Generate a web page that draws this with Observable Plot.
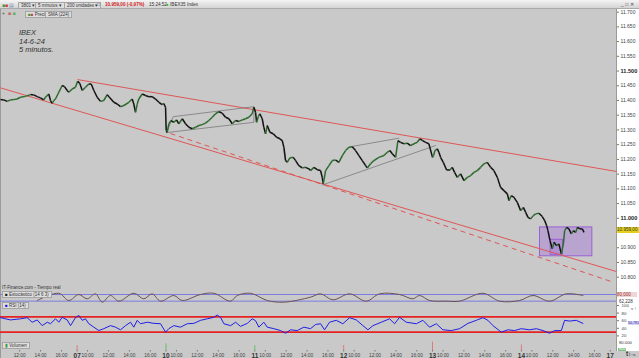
<!DOCTYPE html>
<html><head><meta charset="utf-8">
<script src="https://cdn.jsdelivr.net/npm/d3@7"></script>
<script src="https://cdn.jsdelivr.net/npm/@observablehq/plot@0.6"></script>
<style>
body{margin:0;background:#fff;}
#wrap{position:relative;width:639px;height:358px;background:#c9c9c9;overflow:hidden;font-family:"Liberation Sans",Arial,sans-serif;}
.abs{position:absolute;white-space:nowrap;}
.box{background:#dedede;border:1px solid #a5a5a5;font-size:4.5px;line-height:5px;padding:0 2px;color:#333;}
</style></head><body><div id="wrap"></div>
<script>
// ---- time axis: trading hours counted from 06-Jun 09:00 (each session 09:00-17:30 = 8.5 h)
const dayLabels = ["06","07","10","11","12","13","14","17"];
const hourLabels = ["10:00","12:00","14:00","16:00"];
const X_DOMAIN = [1.17, 60.1];

// ---- price (IBEX 35, 5 min)
const priceT = [1.17,1.48,1.81,2.12,2.44,2.76,3.08,3.56,4.04,4.35,4.68,4.99,5.31,5.47,5.79,5.95,6.11,6.27,6.43,6.75,7.07,7.29,7.55,7.70,8.03,8.34,8.55,8.76,8.99,9.30,9.62,9.85,10.10,10.42,10.74,11.05,11.38,11.63,12.01,12.34,12.65,12.97,13.45,13.77,13.92,14.09,14.25,14.40,14.73,15.04,15.36,15.68,16.00,16.32,16.64,16.79,16.96,17.02,17.12,17.27,17.50,17.75,18.01,18.23,18.56,18.87,19.19,19.51,19.83,20.14,20.47,20.78,21.10,21.43,21.74,22.06,22.38,22.70,23.02,23.34,23.66,23.97,24.30,24.61,24.93,25.25,25.41,25.57,25.67,25.83,25.98,26.21,26.36,26.53,26.69,26.94,27.26,27.58,27.90,28.12,28.28,28.44,28.60,28.85,29.18,29.40,29.71,30.04,30.35,30.67,30.83,31.15,31.47,31.79,31.95,32.05,32.27,32.59,32.91,33.23,33.54,33.87,34.18,34.50,34.82,35.14,35.46,35.78,36.10,36.26,36.57,36.89,37.37,37.85,38.17,38.42,38.65,38.97,39.19,39.44,39.76,40.08,40.40,40.72,41.04,41.29,41.55,41.84,42.15,42.50,42.60,42.73,42.96,43.11,43.27,43.53,43.85,44.17,44.39,44.61,44.87,45.19,45.51,45.83,46.15,46.46,46.78,47.10,47.42,47.74,48.06,48.37,48.70,49.01,49.33,49.66,49.81,50.04,50.29,50.61,50.93,51.19,51.41,51.63,51.89,52.14,52.36,52.68,53.00,53.23,53.42,53.54,53.74,53.96,54.12,54.37,54.59,54.82,55.02,55.14,55.33,55.55,55.78,55.97,56.19,56.35,56.60,56.83,56.99];
const priceV = [11403,11402,11397,11402,11403,11405,11411,11414,11420,11419,11413,11409,11402,11411,11422,11400,11390,11400,11405,11428,11451,11447,11434,11428,11439,11445,11465,11458,11434,11445,11456,11456,11434,11411,11397,11400,11420,11409,11394,11388,11379,11383,11394,11405,11388,11360,11388,11405,11422,11417,11413,11413,11405,11394,11386,11390,11377,11298,11292,11321,11332,11326,11334,11321,11338,11321,11309,11304,11309,11315,11318,11323,11332,11343,11355,11362,11357,11343,11338,11321,11332,11329,11334,11338,11343,11355,11377,11360,11326,11345,11355,11338,11309,11287,11315,11292,11287,11275,11270,11264,11241,11196,11190,11205,11207,11196,11179,11171,11173,11168,11162,11173,11165,11162,11139,11117,11162,11179,11196,11198,11190,11213,11230,11241,11243,11230,11213,11196,11179,11171,11185,11196,11207,11213,11224,11230,11219,11207,11264,11258,11253,11255,11247,11253,11258,11270,11264,11258,11253,11207,11213,11230,11236,11224,11207,11190,11164,11164,11173,11156,11139,11151,11128,11139,11145,11156,11162,11173,11185,11190,11173,11162,11139,11105,11094,11083,11060,11077,11071,11054,11026,11037,11020,11003,10998,11009,11015,11017,11006,10992,10975,10958,10924,10896,10919,10907,10913,10879,10913,10958,10969,10964,10947,10958,10952,10969,10964,10964,10952];
const priceTicks = [10800,10850,10900,11050,11100,11150,11200,11250,11300,11350,11400,11450,11550,11600,11650,11700];
const priceTicksBold = [11000,11500];
const lastPrice = 10959;
const lastPriceLabel = "10.959,00";

// drawn trend lines / figures
const trendSolid = [{t1:8.54,v1:11471,t2:60.1,v2:11159},{t1:1.17,v1:11443,t2:60.1,v2:10819}];
const trendDashed = [{t1:17.43,v1:11288,t2:59.54,v2:10786}];
const grayG = [1,1,1,1,1,2,2,3,3];
const grayT = [17.05,17.69,25.41,25.41,17.05,31.95,42.79,34.66,39.28];
const grayV = [11291,11345,11379,11326,11291,11113,11247,11243,11272];
const boxes = [{t1:52.78,t2:57.79,v1:10871,v2:10969},{t1:53.80,t2:54.98,v1:10876,v2:10927}];

// stochastic (14 6 3)
const stochT = [4.68,6.75,7.70,8.66,9.46,10.26,10.90,11.69,12.49,13.92,14.88,15.68,16.48,17.75,18.56,20.31,21.58,23.18,23.82,25.09,26.69,28.28,30.83,31.79,32.97,34.57,36.16,37.43,39.35,40.62,41.26,42.22,43.82,45.09,47.32,48.92,50.83,52.11,53.70,55.30,56.89];
const stochV = [26,91,26,80,41,86,11,71,20,91,41,86,20,71,26,80,91,20,71,91,26,11,56,86,32,86,20,86,80,41,71,26,20,20,91,20,26,71,20,86,71];
const stochLevels = [80,20];

// RSI (14)
const rsiT = [1.17,2.12,3.08,3.72,4.20,4.68,5.16,5.64,5.95,6.43,6.75,7.07,7.55,7.87,8.34,8.66,8.99,9.30,9.62,10.10,10.57,11.05,11.69,12.17,12.65,13.13,13.61,13.92,14.25,14.56,15.21,15.84,16.48,16.96,17.27,17.75,18.39,19.03,19.67,20.31,20.95,21.58,21.90,22.22,22.54,23.18,23.66,24.13,24.78,25.25,25.57,25.89,26.36,26.69,27.32,27.96,28.44,28.92,29.56,30.19,30.83,31.31,31.79,32.17,32.65,33.29,33.92,34.57,35.21,35.84,36.32,36.80,37.60,38.39,38.87,39.35,39.99,40.95,41.58,42.22,42.86,43.49,44.30,45.09,45.89,46.69,47.32,47.80,48.28,49.08,49.71,50.35,50.99,51.79,52.43,53.06,53.70,54.18,54.82,55.14,55.61,56.25,56.89];
const rsiV = [68,62,65,68,56,62,47,56,52,65,56,69,62,47,68,74,61,65,52,43,34,39,47,43,36,47,56,43,61,52,56,53,52,30,39,47,43,52,53,61,65,69,75,69,52,47,56,45,53,65,60,43,56,43,39,34,27,36,34,43,39,50,52,36,56,61,52,68,62,47,36,47,56,65,52,69,56,52,61,43,52,36,34,39,53,61,68,61,47,30,36,34,39,36,39,34,27,34,34,61,59,61,53];
const rsiLevels = [70,30];
const rsiTicks = [100,80,60,40,20];
const rsiLastLabel = "50,781";

// volume: opening bars of each session
const volT = [8.5,17,25.5,34,42.5,51];
const volV = [60000,85000,60000,64000,106000,70000];
const volUp = [false,true,true,false,false,false];

// ---------------------------------------------------------------
const wrap = document.getElementById("wrap");
function tag(html, left, top, css, cls){const el=document.createElement("div");el.className="abs"+(cls?" "+cls:"");el.style.left=left+"px";el.style.top=top+"px";if(css)el.style.cssText+=css;el.innerHTML=html;wrap.appendChild(el);return el;}
function place(svg, top){svg.style.position="absolute";svg.style.left="0px";svg.style.top=top+"px";wrap.appendChild(svg);}
const baseStyle = {background:"transparent", overflow:"visible", fontFamily:"Liberation Sans, Arial, sans-serif"};
const fmtPrice = d => d3.format(",")(d).replace(/,/g,".");

// toolbar + white scale panel
tag("",0,0,"width:639px;height:8px;background:linear-gradient(#f4f4f4,#d4d4d4);border-bottom:1px solid #aaa;");
tag("",616,9,"width:23px;height:342px;background:#fff;border-left:1px solid #9a9a9a;");
tag("",0,9,"width:1px;height:349px;background:#9a9a9a;");

// main price panel
const price = priceT.map((t,i)=>({t, v:priceV[i]}));
const segs = price.slice(1).map((d,i)=>({t1:price[i].t, v1:price[i].v, t2:d.t, v2:d.v, c: d.v>price[i].v ? "#2c6a2c" : "#121212"}));
const gray = grayT.map((t,i)=>({t, v:grayV[i], g:grayG[i]}));
const main = Plot.plot({
  width:639, height:278, marginLeft:0, marginRight:23, marginTop:0, marginBottom:0,
  x:{domain:X_DOMAIN, axis:null}, y:{domain:[10765,11709], axis:null},
  style: baseStyle,
  marks:[
    Plot.rect(boxes,{x1:"t1",x2:"t2",y1:"v1",y2:"v2",fill:"#a572d8",fillOpacity:0.42,stroke:"#9a60d6",strokeWidth:1}),
    Plot.link(trendSolid,{x1:"t1",y1:"v1",x2:"t2",y2:"v2",stroke:"#e05656",strokeWidth:1}),
    Plot.link(trendDashed,{x1:"t1",y1:"v1",x2:"t2",y2:"v2",stroke:"#e05656",strokeWidth:1,strokeDasharray:"5,4"}),
    Plot.line(gray,{x:"t",y:"v",z:"g",stroke:"#6e6e6e",strokeWidth:0.7}),
    Plot.link(segs,{x1:"t1",y1:"v1",x2:"t2",y2:"v2",stroke:"c",strokeWidth:1.5}),
    Plot.axisY(priceTicks,{anchor:"right",tickSize:2,tickPadding:2,fontSize:5,fill:"#444",stroke:"#777",tickFormat:fmtPrice}),
    Plot.axisY(priceTicksBold,{anchor:"right",tickSize:2,tickPadding:2,fontSize:5.6,fontWeight:"bold",fill:"#222",stroke:"#777",tickFormat:fmtPrice})
  ]
});
place(main, 9);
const yMain = main.scale("y");
tag(lastPriceLabel, 617, 9 + yMain.apply(lastPrice) - 3, "background:#e6d21a;color:#333;font-size:4.6px;line-height:6px;width:22px;");

// stochastic panel
const stoch = Plot.plot({
  width:639, height:17, marginLeft:0, marginRight:23, marginTop:0, marginBottom:0,
  x:{domain:X_DOMAIN, axis:null}, y:{domain:[-19,134], axis:null},
  style: baseStyle,
  marks:[
    Plot.ruleY(stochLevels,{stroke:"#7b7be0",strokeWidth:1}),
    Plot.line(stochT.map((t,i)=>({t,v:stochV[i]})),{x:"t",y:"v",curve:"catmull-rom",stroke:"#6c5252",strokeWidth:1})
  ]
});
place(stoch, 288);
const yS = stoch.scale("y");
tag("80,000", 617, 288 + yS.apply(80) - 2.5, "background:#efd6d6;color:#a03030;font-size:4.5px;line-height:5px;width:20px;");
tag("62,228", 619, 288 + yS.apply(20) - 2, "color:#333;font-size:4.5px;line-height:5px;");

// RSI panel
const rsi = Plot.plot({
  width:639, height:36, marginLeft:0, marginRight:23, marginTop:0, marginBottom:0,
  x:{domain:X_DOMAIN, axis:null}, y:{domain:[10.5,105.3], axis:null},
  style: baseStyle,
  marks:[
    Plot.ruleY(rsiLevels,{stroke:"#e42222",strokeWidth:1.6}),
    Plot.line(rsiT.map((t,i)=>({t,v:rsiV[i]})),{x:"t",y:"v",stroke:"#1e1ee8",strokeWidth:1}),
    Plot.axisY(rsiTicks,{anchor:"right",tickSize:2,tickPadding:3,fontSize:4.4,fill:"#444",stroke:"#777"})
  ]
});
place(rsi, 303);
const yR = rsi.scale("y");
tag(rsiLastLabel, 628, 303 + yR.apply(rsiV[rsiV.length-1]) - 2, "background:#d6d6ee;color:#2020c0;font-size:3.6px;line-height:4px;");

// volume + time axis
const hourTicks = [];
for (let d = 0; d < 7; d++) for (const h of hourLabels) { const t = d*8.5 + (+h.slice(0,2)) - 9; if (t >= X_DOMAIN[0] && t <= X_DOMAIN[1]) hourTicks.push(t); }
const dayTicks = dayLabels.map((d,i)=>i*8.5).filter(t=>t>=X_DOMAIN[0] && t<=X_DOMAIN[1]);
const vol = Plot.plot({
  width:639, height:19, marginLeft:0, marginRight:23, marginTop:0, marginBottom:8,
  x:{domain:X_DOMAIN, axis:null}, y:{domain:[0,140000], axis:null},
  style: baseStyle,
  marks:[
    Plot.ruleX(volT.map((t,i)=>({t,v:volV[i],c:volUp[i]?"#62c062":"#e07a7a"})),{x:"t",y1:0,y2:"v",stroke:"c",strokeWidth:1}),
    Plot.axisX(hourTicks,{anchor:"bottom",tickSize:1.5,tickPadding:1.5,fontSize:4.8,fill:"#444",stroke:"#777",
      tickFormat: t => hourLabels[Math.round(((t % 8.5) - 1)/2)]}),
    Plot.axisX(dayTicks,{anchor:"bottom",tickSize:1.5,tickPadding:1,fontSize:6.5,fontWeight:"bold",fill:"#333",stroke:"#777",
      tickFormat: t => dayLabels[Math.round(t/8.5)]})
  ]
});
place(vol, 339);
tag("80.000", 619, 340.5, "color:#333;font-size:4.2px;line-height:4px;");
tag("600", 618, 347.5, "background:#7cc07c;color:#fff;font-size:3.8px;line-height:3.8px;padding:0 1px;");

// text overlays
tag("IBEX<br>14-6-24<br>5 minutos.", 19, 29, "font-style:italic;font-size:7.5px;line-height:8.5px;color:#333;");
tag("IT-Finance.com - Tiempo real", 2, 284.5, "font-size:4.5px;color:#333;");
tag('<span style="color:#222">&#9632;</span> Estocástico (14 6 3)', 2, 290.5, "", "box");
tag('<span style="color:#2020e0">&#9632;</span> RSI (14)', 2, 302, "", "box");
tag('<span style="color:#3a9a3a">&#9646;</span> Volumen', 2, 342, "", "box");

// toolbar contents
tag('<span style="color:#3a9a3a">&#9632;</span><span style="color:#d04040">&#9632;</span> <span style="color:#6a8ab0">&#9636;</span>', 2, 1.5, "font-size:5px;line-height:6px;");
tag("3801 &#9662;", 18, 1.5, "", "box");
tag("5 minutos &#9662;", 35, 1.5, "", "box");
tag("200 unidades &#9662;", 64, 1.5, "", "box");
tag("&#9633;", 97, 1, "font-size:5px;color:#555;");
tag("10.959,00 (-0,97%)", 105, 2, "font-size:4.6px;font-weight:bold;color:#d02020;");
tag("15:24:52", 149, 2, "font-size:4.6px;color:#333;");
tag('<span style="color:#20b020">&#9679;</span> IBEX35 Index', 166, 2, "font-size:4.6px;color:#333;");
tag("_ &#9633; &#10005;", 621, 1, "font-size:5px;color:#444;");
tag("+", 2, 10, "font-size:5px;color:#555;");
tag('<span style="color:#d06060">&#9632;</span> <span style="color:#60b060">&#9632;</span>', 8, 10, "font-size:5px;");
tag('<span style="color:#3a9a3a">&#9632;</span><span style="color:#d04040">&#9632;</span> Precio', 25, 10.5, "", "box");
tag("SMA (224)", 45, 10.5, "", "box");
</script></body></html>
